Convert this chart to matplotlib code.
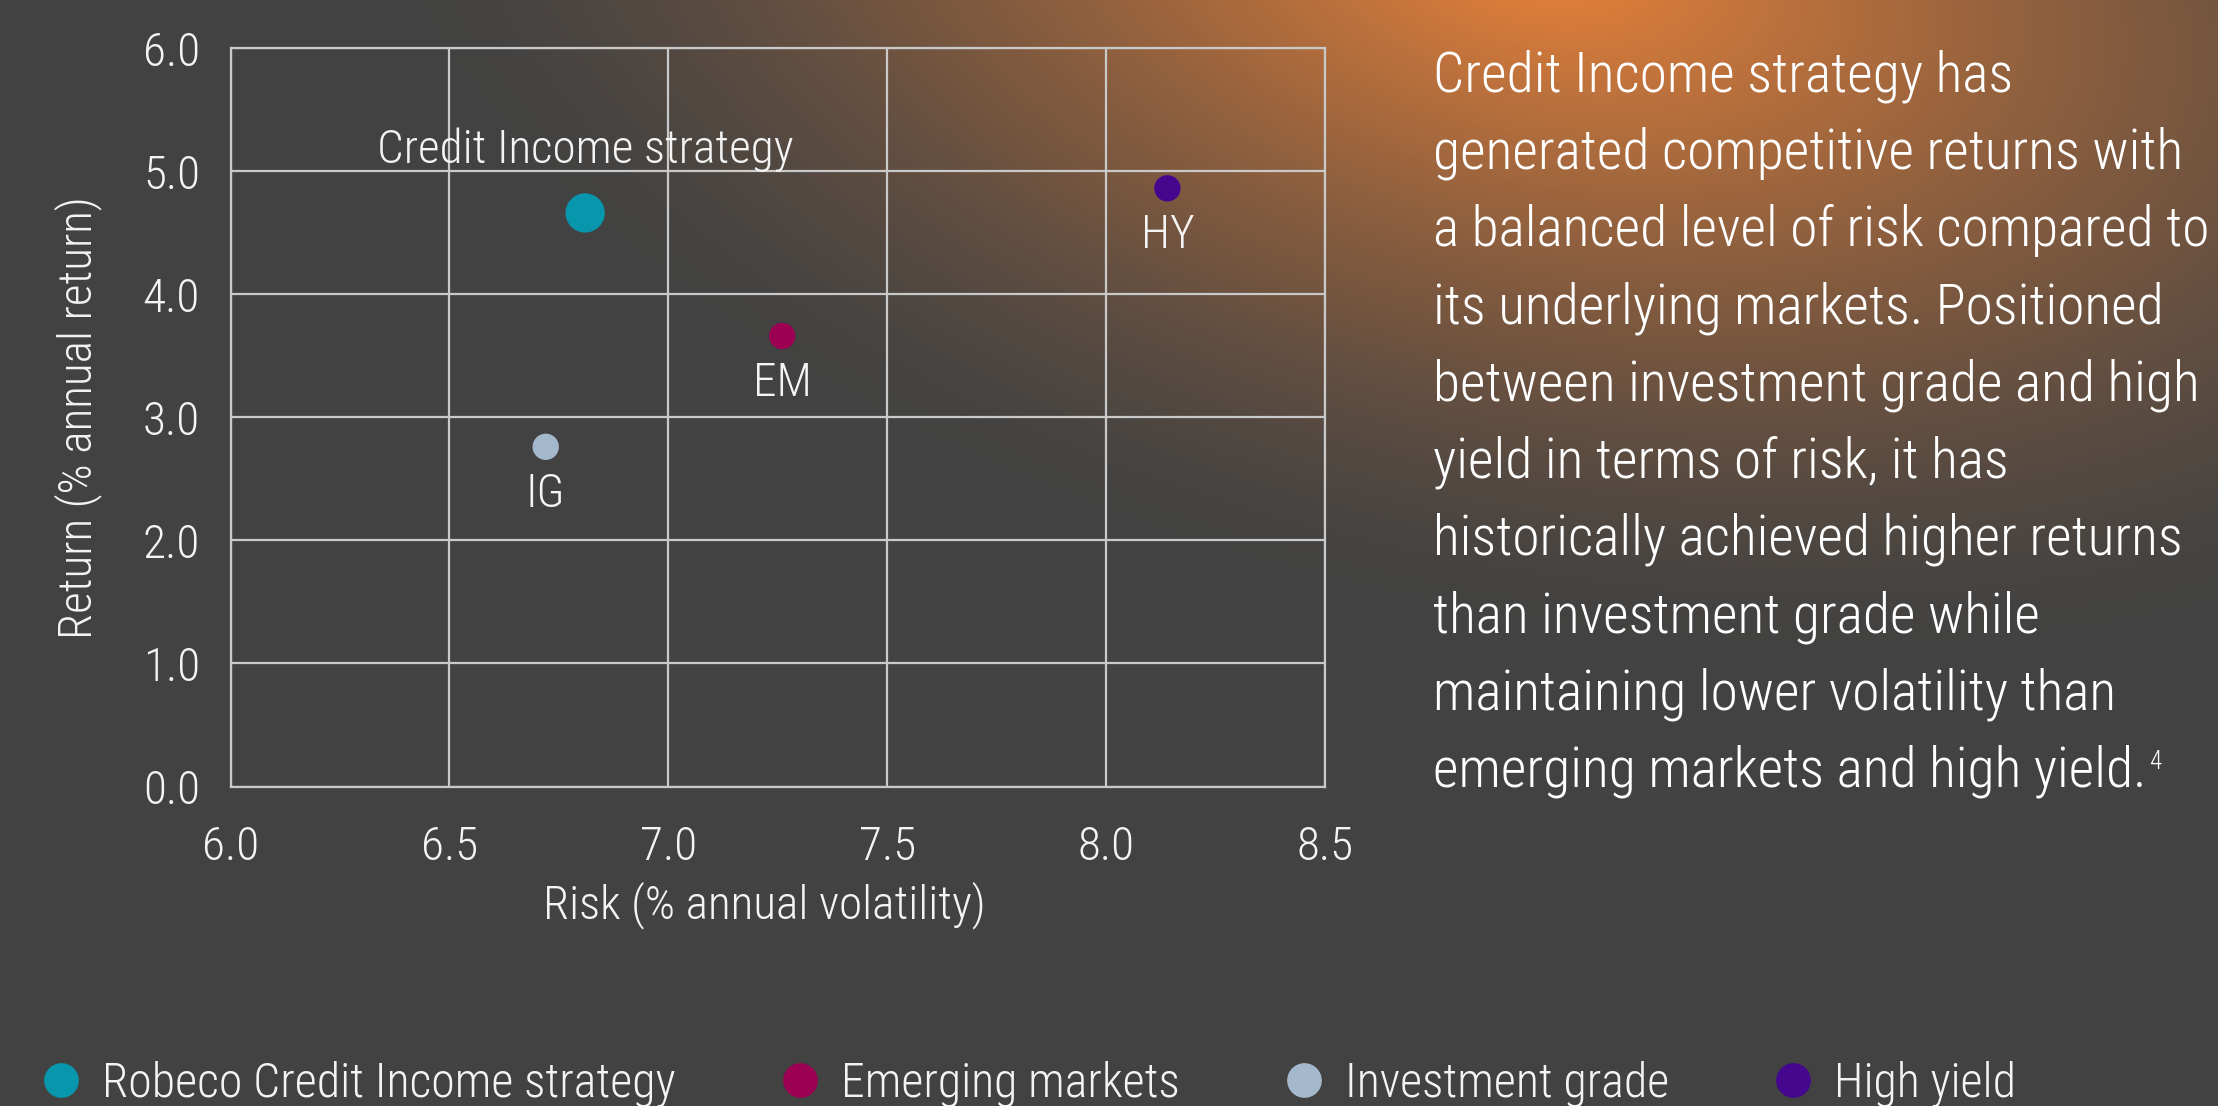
import numpy as np
import matplotlib
matplotlib.use('Agg')
import matplotlib.pyplot as plt
from matplotlib.lines import Line2D

plt.rcParams['font.family'] = ['Roboto Condensed', 'DejaVu Sans']
plt.rcParams['font.weight'] = 'light'
plt.rcParams['axes.labelweight'] = 'light'

# data
point_labels = ['Credit Income strategy', 'EM', 'IG', 'HY']
legend_labels = ['Robeco Credit Income strategy', 'Emerging markets', 'Investment grade', 'High yield']
risk = [6.81, 7.26, 6.72, 8.14]
ret = [4.66, 3.66, 2.76, 4.86]
colors = ['#0896ad', '#9c0052', '#a3b8cb', '#44078e']
sizes = [800, 360, 360, 360]

x_ticks = [6.0, 6.5, 7.0, 7.5, 8.0, 8.5]
y_ticks = [0.0, 1.0, 2.0, 3.0, 4.0, 5.0, 6.0]

paragraph = [
    'Credit Income strategy has',
    'generated competitive returns with',
    'a balanced level of risk compared to',
    'its underlying markets. Positioned',
    'between investment grade and high',
    'yield in terms of risk, it has',
    'historically achieved higher returns',
    'than investment grade while',
    'maintaining lower volatility than',
    'emerging markets and high yield.',
]
footnote = '4'

W, H = 2218, 1106
txt = '#f4f4f4'
grid_col = '#c9c9c9'
fs = 34

fig = plt.figure(figsize=(W / 100, H / 100), dpi=100)

# background with orange glow at the top right
bg = fig.add_axes([0, 0, 1, 1], zorder=-10)
bg.axis('off')
yy, xx = np.mgrid[0:H, 0:W]
dx = xx - 1540.0
dy = yy + 40.0
a = np.deg2rad(12)
u = dx * np.cos(a) + dy * np.sin(a)
v = -dx * np.sin(a) + dy * np.cos(a)
d = np.sqrt((u / 1200.0) ** 2 + (v / 650.0) ** 2)
k = np.clip(1 - d, 0, 1) ** 1.4
base = np.array([66, 66, 66]) / 255
orange = np.array([234, 131, 58]) / 255
img = base[None, None, :] * (1 - k[..., None]) + orange[None, None, :] * k[..., None]
bg.imshow(img, extent=[0, W, H, 0], aspect='auto')
bg.set_xlim(0, W)
bg.set_ylim(H, 0)

ax = fig.add_axes([230.5 / W, 1 - 786.5 / H, 1094.5 / W, 738.5 / H])
ax.set_facecolor('none')
ax.set_xlim(6.0, 8.5)
ax.set_ylim(0, 6.0)
ax.set_xticks(x_ticks)
ax.set_yticks(y_ticks)
ax.set_xticklabels([f'{t:.1f}' for t in x_ticks])
ax.set_yticklabels([f'{t:.1f}' for t in y_ticks])
ax.grid(True, color=grid_col, linewidth=1.6)
ax.set_axisbelow(True)
for s in ax.spines.values():
    s.set_color(grid_col)
    s.set_linewidth(1.6)
ax.tick_params(length=0, labelsize=fs, labelcolor=txt)
ax.tick_params(axis='x', pad=28)
ax.tick_params(axis='y', pad=22)

ax.set_xlabel('Risk (% annual volatility)', fontsize=fs, color=txt, fontweight='light')
ax.set_ylabel('Return (% annual return)', fontsize=fs, color=txt, fontweight='light')
ax.xaxis.set_label_coords(0.488, -0.1605)
ax.xaxis.label.set_va('center')
ax.yaxis.set_label_coords(-0.1393, 0.5)
ax.yaxis.label.set_va('center')

for i in range(len(risk)):
    ax.scatter(risk[i], ret[i], s=sizes[i], color=colors[i], edgecolors='none', zorder=3)
    off = 36 if i == 0 else -43
    ax.annotate(point_labels[i], (risk[i], ret[i]), xytext=(0, off), textcoords='offset points',
                ha='center', va='baseline', fontsize=fs, color=txt)

# paragraph on the right
lines = []
for i, line in enumerate(paragraph):
    t = fig.text(1433 / W, 1 - (91.7 + i * 77.2) / H, line, fontsize=40, color='white',
                 ha='left', va='baseline')
    lines.append(t)
fig.canvas.draw()
bb = lines[-1].get_window_extent()
fig.text((bb.x1 + 3) / W, 1 - 769 / H, footnote, fontsize=18, color='white', ha='left', va='baseline')

# legend along the bottom
handles = [Line2D([], [], linestyle='none', marker='o', markersize=25, markerfacecolor=c,
                  markeredgecolor='none') for c in colors]
fig.legend(handles, legend_labels, loc='center left', bbox_to_anchor=(43 / W, 1 - 1084 / H),
           ncol=4, frameon=False, fontsize=34.5, labelcolor=txt, handlelength=0.75,
           handletextpad=0.48, columnspacing=2.22, borderpad=0, borderaxespad=0)

fig.savefig('out.png', dpi=100, facecolor='#424242')
